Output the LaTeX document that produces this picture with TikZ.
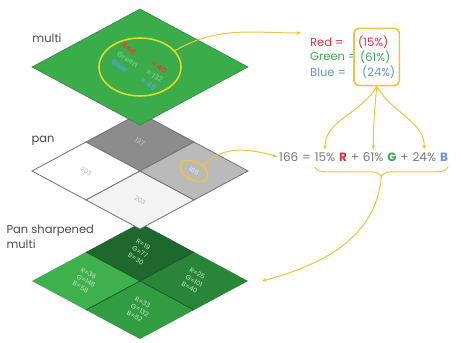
\documentclass[tikz,border=0pt]{standalone}
\usepackage{fontspec}
\setmainfont{Poppins}
\usetikzlibrary{arrows.meta,positioning,shapes.geometric,decorations.pathreplacing,fit}

\definecolor{multigreen}{RGB}{58,173,74}
\definecolor{shT}{RGB}{30,104,46}
\definecolor{shL}{RGB}{62,176,76}
\definecolor{shR}{RGB}{41,134,56}
\definecolor{shB}{RGB}{50,156,66}
\definecolor{panT}{RGB}{140,140,140}
\definecolor{panR}{RGB}{186,186,186}
\definecolor{panL}{RGB}{255,255,255}
\definecolor{panB}{RGB}{243,243,243}
\definecolor{gold}{RGB}{240,196,62}
\definecolor{lime}{RGB}{226,216,42}
\definecolor{txtR}{RGB}{228,48,62}
\definecolor{txtG}{RGB}{62,168,82}
\definecolor{txtB}{RGB}{98,150,214}
\definecolor{txtgray}{RGB}{120,120,120}
\definecolor{pixtxt}{RGB}{200,232,200}

\begin{document}
\begin{tikzpicture}[
  x=1pt,
  y=1pt,
  layer/.style={x=61.3pt,y=61.3pt,cm={0.8809,-0.4731,0.8809,0.4731,(0,0)}},
  pix/.style={rotate=-30,font=\fontsize{6.5}{8}\selectfont,text=pixtxt,align=left,inner sep=0},
  pantxt/.style={rotate=-30,font=\fontsize{6.5}{7}\selectfont,inner sep=0},
  panedge/.style={draw=black!55,line width=0.8pt},
  shline/.style={draw=shT!80!black,line width=0.7pt},
  mtxt/.style={rotate=-32,font=\fontsize{7.5}{10}\selectfont\bfseries,align=left,inner sep=0},
  lab/.style={font=\fontsize{11.5}{15}\selectfont,text=black!70,align=left},
  rgb/.style={font=\fontsize{11.5}{13}\selectfont,inner sep=0},
  eq/.style={font=\fontsize{12}{14}\selectfont,text=txtgray,inner sep=0,node distance=3.5pt},
  link/.style={draw=gold,line width=1pt,-{Stealth[length=4.5pt,width=4pt]}},
  brace/.style={draw=gold,line width=1pt,decorate,decoration={brace,mirror,amplitude=10pt}},
  ratebox/.style={draw=gold,line width=1.6pt,rounded corners=5pt,inner xsep=4pt,inner ysep=7pt},
  ring/.style={ellipse,draw=gold,line width=1.4pt,rotate=-28,minimum width=30pt,minimum height=18pt,inner sep=0},
  spot/.style={ellipse,draw=lime,line width=1.6pt,minimum width=82pt,minimum height=58pt,inner sep=0}
]
\path[fill=white] (0,0) rectangle (461,343);

% pan sharpened multi
\begin{scope}[shift={(32,62)},layer]
  \foreach \i/\j/\c/\r/\g/\b in {0/1/shT/19/77/30,0/0/shL/36/148/58,1/1/shR/25/101/40,1/0/shB/33/132/52} {
    \fill[\c] (\i,\j) rectangle ++(1,1);
    \node[pix] (sh\i\j) at (\i+0.5,\j+0.5) {R=\r\\G=\g\\B=\b};
  }
  \draw[shline] (0,1) -- (2,1) (1,0) -- (1,2);
\end{scope}

% pan
\begin{scope}[shift={(32,172)},layer]
  \foreach \i/\j/\c/\t/\v in {0/1/panT/black!20/127,0/0/panL/black!30/203,1/0/panB/black!30/203,1/1/panR/black!8/166} {
    \filldraw[panedge,fill=\c] (\i,\j) rectangle ++(1,1);
    \node[pantxt,text=\t] (px\i\j) at (\i+0.5,\j+0.5) {\v};
  }
\end{scope}
\node[ring] (ring) at (px11) {};

% multi
\begin{scope}[shift={(32,276)},layer]
  \filldraw[draw=multigreen!75!black,line width=0.5pt,fill=multigreen] (0,0) rectangle (2,2);
  \node[mtxt] (vals) at (1,1) {%
    {\color{txtR!80!orange}\makebox[34pt][l]{Red}= 40}\\
    {\color{multigreen!75!white}\makebox[34pt][l]{Green}= 132}\\
    {\color{txtB!90!cyan}\makebox[34pt][l]{Blue}= 45}};
\end{scope}
\node[spot] (spot) at (vals) {};

\node[lab] (lmulti) at (47,305) {multi};
\node[lab] (lpan) at (43,202) {pan};
\node[lab,anchor=north west] (lsharp) at (3,122) {Pan sharpened\\multi};

% band weights
\node[rgb,text=txtR,anchor=west] (lblR) at (310,301) {Red =};
\node[rgb,text=txtG,anchor=west] (lblG) at (310,286) {Green =};
\node[rgb,text=txtB,anchor=west] (lblB) at (310,271) {Blue =};
\node[rgb,text=txtR,anchor=west] (pR) at (358,301) {(15\%)};
\node[rgb,text=txtG,anchor=west] (pG) at (360,286) {(61\%)};
\node[rgb,text=txtB,anchor=west] (pB) at (362,271) {(24\%)};
\node[ratebox,fit=(pR)(pG)(pB)] (rates) {};

% weighted sum
\node[eq,anchor=west] (n166) at (279,186) {166};
\node[eq,base right=of n166] (eqs) {=};
\node[eq,base right=of eqs] (p15) {15\%};
\node[eq,base right=of p15,text=txtR] (nR) {\textbf{R}};
\node[eq,base right=of nR] (plus1) {+};
\node[eq,base right=of plus1] (p61) {61\%};
\node[eq,base right=of p61,text=txtG] (nG) {\textbf{G}};
\node[eq,base right=of nG] (plus2) {+};
\node[eq,base right=of plus2] (p24) {24\%};
\node[eq,base right=of p24,text=txtB] (nB) {\textbf{B}};

\draw[link,shorten >=3pt] (rates.south) to[out=-120,in=90] (p15.north);
\draw[link,shorten >=3pt] (rates.south) to[out=-95,in=90] (p61.north);
\draw[link,shorten >=3pt] (rates.south) to[out=-60,in=90] (p24.north);

\coordinate (braceL) at ([yshift=-5pt]p15.south west);
\coordinate (braceR) at (braceL -| nB.east);
\draw[brace] (braceL) -- (braceR) coordinate[midway,yshift=-10pt] (braceTip);

\coordinate (redIn) at (301,310);
\coordinate (sharpIn) at (262,62);
\draw[link] (spot.25) to[out=30,in=180] (redIn);
\draw[link,shorten >=2pt] (ring.60) to[out=45,in=165] (n166.west);
\draw[link] (braceTip) to[out=-95,in=15] (sharpIn);
\end{tikzpicture}
\end{document}
